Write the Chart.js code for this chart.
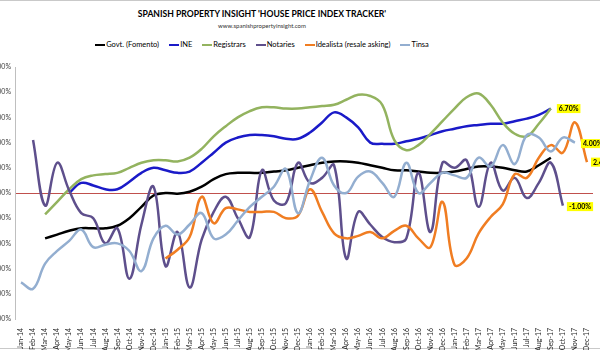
<!DOCTYPE html>
<html>
<head>
<meta charset="utf-8">
<title>House price index tracker</title>
<script src="https://cdn.jsdelivr.net/npm/chart.js@4.4.1/dist/chart.umd.min.js"></script>
<style>
  html, body { margin: 0; padding: 0; background: #fff; }
  body { width: 600px; height: 350px; position: relative; overflow: hidden; font-family: Lato, 'Open Sans', sans-serif; }
  .rule { position: absolute; left: 0; width: 600px; height: 1px; background: #c9c9c9; }
  #head { position: absolute; left: 0; top: 0; width: 524px; text-align: center; color: #000; }
  #head h1 { position: absolute; top: 9px; width: 100%; margin: 0; font-size: 8.6px; font-weight: 700; letter-spacing: 0; }
  #head .sub { position: absolute; top: 22px; width: 100%; font-size: 6px; color: #333; }
  #legend { position: absolute; top: 40px; left: 0; width: 524px; display: flex; justify-content: center; gap: 10px; font-size: 7.5px; color: #000; }
  #legend .item { display: flex; align-items: center; white-space: nowrap; }
  #legend i { display: inline-block; width: 10px; height: 2px; margin-right: 1px; }
  #wrap { position: absolute; left: -24px; top: 0; width: 630px; height: 350px; }
</style>
</head>
<body>
<div class="rule" style="top:0"></div>
<div class="rule" style="top:348px"></div>
<div id="head">
  <h1>SPANISH PROPERTY INSIGHT 'HOUSE PRICE INDEX TRACKER'</h1>
  <div class="sub">www.spanishpropertyinsight.com</div>
</div>
<div id="legend"></div>
<div id="wrap"><canvas id="chart"></canvas></div>

<script>
'use strict';

/* ---- data (annual % change) ---- */
const MONTHS = [
  'Jan-14', 'Feb-14', 'Mar-14', 'Apr-14', 'May-14', 'Jun-14', 'Jul-14', 'Aug-14', 'Sep-14', 'Oct-14', 'Nov-14', 'Dec-14',
  'Jan-15', 'Feb-15', 'Mar-15', 'Apr-15', 'May-15', 'Jun-15', 'Jul-15', 'Aug-15', 'Sep-15', 'Oct-15', 'Nov-15', 'Dec-15',
  'Jan-16', 'Feb-16', 'Mar-16', 'Apr-16', 'May-16', 'Jun-16', 'Jul-16', 'Aug-16', 'Sep-16', 'Oct-16', 'Nov-16', 'Dec-16',
  'Jan-17', 'Feb-17', 'Mar-17', 'Apr-17', 'May-17', 'Jun-17', 'Jul-17', 'Aug-17', 'Sep-17', 'Oct-17', 'Nov-17', 'Dec-17',
];

const FOMENTO = [
  null, null, -3.6, -3.3, -3.0, -2.8, -2.8, -2.8, -2.6, -2.0, -1.1, -0.2,
  0.0, -0.05, 0.1, 0.5, 1.1, 1.5, 1.6, 1.6, 1.6, 1.7, 1.8, 2.0,
  2.2, 2.4, 2.5, 2.5, 2.4, 2.2, 2.0, 1.8, 1.8, 1.7, 1.6, 1.6,
  1.7, 1.9, 2.1, 2.1, 2.0, 1.8, 1.7, 2.2, 2.8, null, null, null,
];

const INE = [
  null, null, null, null, 0.0, 0.8, 0.6, 0.3, 0.3, 0.9, 1.6, 2.0,
  1.8, 1.6, 1.7, 2.4, 3.2, 4.0, 4.4, 4.6, 4.6, 4.5, 4.3, 4.3,
  4.8, 5.6, 6.4, 6.0, 5.2, 4.0, 3.9, 3.9, 4.1, 4.3, 4.6, 4.9,
  5.1, 5.3, 5.4, 5.5, 5.5, 5.7, 5.9, 6.2, 6.7, null, null, null,
];

const REGISTRARS = [
  null, null, -1.7, -0.7, 0.3, 1.1, 1.4, 1.5, 1.6, 2.0, 2.4, 2.6,
  2.6, 2.5, 2.8, 3.5, 4.5, 5.3, 6.0, 6.5, 6.8, 6.8, 6.7, 6.7,
  6.8, 6.9, 7.0, 7.4, 7.8, 7.7, 7.0, 4.2, 3.4, 3.8, 4.7, 5.7,
  6.7, 7.6, 7.9, 7.0, 5.6, 4.7, 4.5, 5.5, 6.7, null, null, null,
];

const NOTARIES = [
  null, 4.2, -1.0, 2.4, 0.2, -1.6, -2.0, -4.0, -2.8, -6.8, -2.5, 0.5,
  -5.8, -3.1, -7.5, -3.7, -1.5, -0.3, -2.0, -3.5, 1.8, -0.6, -0.8, 2.4,
  0.8, 1.2, 2.2, -5.2, -1.5, -2.5, -3.5, -3.9, -3.6, 1.6, -3.1, 2.4,
  2.0, 2.6, -1.1, 2.4, 0.2, 1.2, -0.4, 0.8, 2.4, -1.0, null, null,
];

const IDEALISTA = [
  null, null, null, null, null, null, null, null, null, null, null, null,
  -5.2, -4.5, -3.5, -0.3, -2.4, -1.2, -1.3, -1.5, -1.5, -1.5, -2.0, -1.8,
  0.3, -1.5, -3.2, -3.6, -3.4, -3.1, -3.6, -3.0, -2.6, -3.6, -4.3, -0.7,
  -5.7, -5.2, -3.2, -1.9, -0.9, 1.5, 1.2, 2.8, 3.8, 3.2, 5.6, 2.45,
];

const TINSA = [
  -7.1, -7.6, -5.6, -4.6, -3.8, -2.9, -4.3, -4.1, -4.0, -4.6, -6.2, -3.6,
  -2.6, -3.3, -2.5, -1.6, -3.6, -3.3, -2.2, -1.1, -0.3, 0.5, 1.9, -1.6,
  1.0, 2.8, 0.6, 0.0, 1.3, 1.7, 0.8, -0.3, 2.4, 0.0, 0.8, 1.6,
  1.4, 1.2, 2.8, 2.1, 3.8, 2.3, 4.6, 4.4, 3.3, 4.4, 4.0, null,
];

const Y_MIN = -10;
const Y_MAX = 10;
const Y_STEP = 2;

/* ---- series table (Excel order: later series drawn on top) ---- */
const SERIES = [
  { label: 'Govt. (Fomento)', data: FOMENTO, color: '#000000' },
  { label: 'INE', data: INE, color: '#1a1ac8', endLabel: { dx: 6, dy: 0 } },
  { label: 'Registrars', data: REGISTRARS, color: '#93b35f' },
  { label: 'Notaries', data: NOTARIES, color: '#5e4f8c', endLabel: { dx: 4, dy: 1 } },
  { label: 'Idealista (resale asking)', data: IDEALISTA, color: '#f07d22', endLabel: { dx: 4, dy: 0 } },
  { label: 'Tinsa', data: TINSA, color: '#93aed0', endLabel: { dx: 6, dy: 1 } },
];

/* ---- html legend ---- */
document.getElementById('legend').innerHTML = SERIES.map(s =>
  `<span class="item"><i style="background:${s.color}"></i>${s.label}</span>`).join('');

/* ---- yellow value boxes at the end of some series ---- */
const endLabels = {
  id: 'endLabels',
  afterDatasetsDraw(chart) {
    const ctx = chart.ctx;
    ctx.save();
    ctx.font = "bold 7px Lato, 'Open Sans', sans-serif";
    ctx.textBaseline = 'middle';
    chart.data.datasets.forEach((ds, i) => {
      if (!ds.endLabel) return;
      let last = ds.data.length - 1;
      while (last >= 0 && ds.data[last] == null) last--;
      const pt = chart.getDatasetMeta(i).data[last];
      const text = ds.data[last].toFixed(2) + '%';
      const w = ctx.measureText(text).width + 4;
      const x = pt.x + ds.endLabel.dx;
      const y = pt.y + ds.endLabel.dy;
      ctx.fillStyle = '#ffff00';
      ctx.fillRect(x, y - 4.5, w, 9);
      ctx.fillStyle = '#000';
      ctx.fillText(text, x + 2, y + 0.5);
    });
    ctx.restore();
  },
};

const tickFont = { family: "Lato, 'Open Sans', sans-serif", size: 7 };

new Chart(document.getElementById('chart').getContext('2d'), {
  type: 'line',
  data: {
    labels: MONTHS,
    datasets: SERIES.map((s, i) => ({
      label: s.label,
      data: s.data,
      borderColor: s.color,
      backgroundColor: s.color,
      borderWidth: 2.5,
      pointRadius: 0,
      tension: 0.4,
      fill: false,
      order: SERIES.length - i,
      endLabel: s.endLabel,
    })),
  },
  options: {
    responsive: true,
    maintainAspectRatio: false,
    animation: false,
    layout: { padding: { top: 67, right: 13, bottom: 0, left: 0 } },
    plugins: {
      legend: { display: false },
      tooltip: { enabled: false },
    },
    scales: {
      x: {
        offset: true,
        grid: { display: false },
        border: { display: false },
        ticks: {
          autoSkip: false,
          maxRotation: 90,
          minRotation: 90,
          padding: 1,
          font: tickFont,
          color: '#262626',
        },
        afterFit: s => { s.height = 31; },
      },
      y: {
        min: Y_MIN,
        max: Y_MAX,
        grid: {
          drawTicks: false,
          color: c => (c.tick && c.tick.value === 0 ? '#c0504d' : 'rgba(0,0,0,0)'),
          lineWidth: 1,
        },
        border: { display: true, color: '#bfbfbf', width: 1 },
        ticks: {
          stepSize: Y_STEP,
          padding: 4,
          font: tickFont,
          color: '#404040',
          callback: v => v.toFixed(2) + '%',
        },
        afterFit: s => { s.width = 39; },
      },
    },
  },
  plugins: [endLabels],
});
</script>
</body>
</html>
